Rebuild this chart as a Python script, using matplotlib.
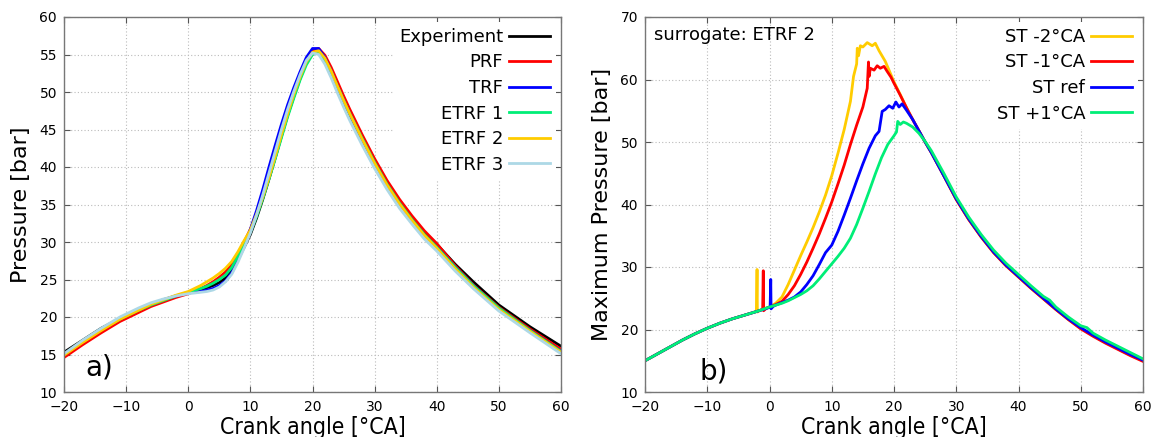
import matplotlib
matplotlib.use("Agg")
import matplotlib.pyplot as plt

# ---------------- panel a) data ----------------
crank_a = [-20, -17, -14, -11, -8, -6, -4, -2, 0, 2, 3, 4, 5, 6, 7, 8, 9, 10, 11, 12, 13,
           14, 15, 16, 17, 18, 19, 20, 21, 22, 23, 24, 25, 26, 28, 30, 32, 34, 36, 38,
           40, 43, 46, 50, 55, 60]
experiment = [15.3, 16.9, 18.5, 19.8, 21.0, 21.7, 22.3, 22.8, 23.2, 23.6, 23.9, 24.2, 24.6,
              25.2, 26.2, 27.7, 29.3, 31.0, 33.2, 35.7, 38.4, 41.2, 44.1, 46.9, 49.4, 51.8,
              53.9, 55.1, 55.2, 54.0, 52.3, 50.4, 48.6, 46.9, 43.6, 40.5, 37.7, 35.3, 33.2,
              31.3, 29.7, 27.0, 24.6, 21.6, 18.7, 16.1]
prf = [14.6, 16.3, 17.9, 19.4, 20.6, 21.4, 22.0, 22.6, 23.1, 23.8, 24.2, 24.7, 25.3, 26.0,
       27.0, 28.4, 30.0, 31.7, 33.8, 36.2, 38.9, 41.7, 44.6, 47.4, 49.9, 52.2, 54.2, 55.6,
       55.8, 54.9, 53.3, 51.4, 49.5, 47.7, 44.3, 41.1, 38.2, 35.7, 33.5, 31.5, 29.8, 26.8,
       24.2, 21.3, 18.4, 15.7]
trf = [15.0, 16.7, 18.3, 19.8, 21.0, 21.7, 22.3, 22.8, 23.2, 23.4, 23.6, 23.8, 24.2, 24.8,
       25.9, 27.6, 29.6, 31.7, 34.2, 37.0, 40.0, 42.9, 45.7, 48.3, 50.6, 52.7, 54.6, 55.8,
       55.8, 54.6, 52.8, 50.8, 48.9, 47.1, 43.7, 40.5, 37.6, 35.1, 32.9, 30.9, 29.3, 26.6,
       24.1, 21.1, 18.2, 15.4]
etrf1 = [15.0, 16.7, 18.3, 19.7, 20.9, 21.6, 22.2, 22.8, 23.3, 23.8, 24.1, 24.5, 25.0, 25.6,
         26.6, 28.1, 29.8, 31.3, 33.4, 35.8, 38.4, 41.1, 43.9, 46.7, 49.2, 51.6, 53.6, 55.0,
         55.3, 54.3, 52.7, 50.8, 48.9, 47.1, 43.8, 40.6, 37.7, 35.2, 33.0, 31.0, 29.3, 26.6,
         24.1, 21.2, 18.2, 15.4]
etrf2 = [14.9, 16.6, 18.2, 19.7, 20.9, 21.7, 22.3, 22.9, 23.4, 24.2, 24.7, 25.2, 25.8, 26.5,
         27.4, 28.7, 30.2, 31.6, 33.7, 36.0, 38.6, 41.4, 44.3, 47.1, 49.7, 52.0, 54.0, 55.3,
         55.5, 54.5, 52.8, 50.8, 48.9, 47.1, 43.7, 40.5, 37.6, 35.1, 32.9, 30.9, 29.2, 26.4,
         23.9, 21.0, 18.1, 15.3]
etrf3 = [15.1, 16.9, 18.5, 20.0, 21.2, 21.9, 22.4, 22.8, 23.1, 23.3, 23.4, 23.6, 24.0, 24.7,
         25.7, 27.3, 29.2, 31.2, 33.6, 36.3, 39.2, 42.1, 45.0, 47.7, 50.1, 52.3, 54.2, 55.2,
         55.0, 53.7, 51.9, 49.9, 48.0, 46.2, 42.9, 39.8, 37.0, 34.5, 32.4, 30.4, 28.8, 26.1,
         23.7, 20.8, 17.9, 15.1]
labels_a = ["Experiment", "PRF", "TRF", "ETRF 1", "ETRF 2", "ETRF 3"]
colors_a = ["#000000", "#ff0000", "#0000ff", "#00ee77", "#ffcc00", "#add8e6"]

# ---------------- panel b) data ----------------
st_m2_x = [-20, -18, -16, -14, -12, -10, -8, -6, -4, -2.1, -2.0, -1.95, -1.5, -1, 0, 1, 2, 3,
           4, 5, 6, 7, 8, 9, 10, 11, 12, 13, 13.5, 14.0, 14.1, 14.3, 14.6, 15, 15.7, 16.5,
           17, 17.6, 18.6, 19.5, 20, 21, 22, 23, 24, 25, 26, 28, 30, 32, 34, 36, 38, 40,
           42, 44, 46, 48, 50, 52, 54, 56, 58, 60]
st_m2_y = [15.0, 16.1, 17.2, 18.3, 19.3, 20.2, 21.0, 21.7, 22.3, 22.9, 29.6, 22.8, 23.1,
           23.3, 23.6, 24.2, 25.2, 27.2, 29.5, 31.8, 34.0, 36.3, 38.8, 41.5, 44.6, 48.2,
           52.0, 56.5, 60.5, 62.5, 65.0, 63.8, 65.4, 65.2, 65.9, 65.4, 65.8, 64.6, 62.9,
           60.8, 59.6, 57.6, 55.5, 53.6, 51.8, 50.0, 48.3, 44.6, 40.8, 37.6, 34.8, 32.3,
           30.2, 28.4, 26.6, 24.9, 23.2, 21.6, 20.2, 19.0, 17.9, 16.9, 15.9, 15.0]
st_m1_x = [-20, -18, -16, -14, -12, -10, -8, -6, -4, -2, -1.1, -1.0, -0.95, -0.5, 0, 1, 2,
           3, 4, 5, 6, 7, 8, 9, 10, 11, 12, 13, 14, 15, 15.7, 15.9, 16.0, 16.2, 16.8, 17.3,
           17.8, 18.4, 18.9, 19.5, 20, 21, 22, 23, 24, 25, 26, 28, 30, 32, 34, 36, 38, 40,
           42, 44, 46, 48, 50, 52, 54, 56, 58, 60]
st_m1_y = [15.0, 16.1, 17.2, 18.3, 19.3, 20.2, 21.0, 21.7, 22.3, 22.9, 23.2, 29.4, 23.0,
           23.4, 23.6, 24.0, 24.5, 25.6, 27.0, 28.8, 30.8, 33.0, 35.3, 37.8, 40.4, 43.3,
           46.3, 49.6, 52.7, 55.6, 58.6, 62.8, 60.5, 61.8, 61.5, 62.2, 61.8, 62.1, 61.3,
           60.4, 59.4, 57.5, 55.5, 53.6, 51.8, 50.0, 48.3, 44.6, 40.8, 37.6, 34.8, 32.3,
           30.2, 28.4, 26.6, 24.9, 23.2, 21.6, 20.1, 18.9, 17.8, 16.8, 15.8, 14.9]
st_ref_x = [-20, -18, -16, -14, -12, -10, -8, -6, -4, -2, -0.1, 0.1, 0.2, 0.25, 0.6, 1, 2,
            3, 4, 5, 6, 7, 8, 9, 10, 11, 12, 13, 14, 15, 16, 17, 17.6, 18.1, 18.6, 19.2,
            19.8, 20.3, 20.8, 21.3, 22, 23, 24, 25, 26, 28, 30, 32, 34, 36, 38, 40, 42,
            44, 46, 48, 50, 52, 54, 56, 58, 60]
st_ref_y = [15.0, 16.1, 17.2, 18.3, 19.3, 20.2, 21.0, 21.7, 22.3, 22.9, 23.5, 23.6, 28.0,
            23.3, 23.7, 23.9, 24.3, 24.7, 25.2, 26.0, 27.2, 28.6, 30.4, 32.3, 33.5, 35.7,
            38.3, 41.0, 43.8, 46.5, 49.0, 51.0, 51.7, 54.9, 55.2, 55.8, 55.4, 56.4, 55.6,
            56.1, 55.1, 53.6, 51.8, 50.0, 48.3, 44.6, 40.9, 37.7, 34.9, 32.4, 30.3, 28.5,
            26.7, 25.0, 23.3, 21.7, 20.3, 19.1, 18.0, 17.0, 16.0, 15.1]
st_p1_x = [-20, -18, -16, -14, -12, -10, -8, -6, -4, -2, 0, 1, 2, 3, 4, 5, 6, 7, 8, 9, 10,
           11, 12, 13, 14, 15, 16, 17, 18, 19, 20, 20.4, 20.6, 21.0, 21.5, 22, 23, 24, 25,
           26, 28, 30, 32, 34, 36, 38, 40, 42, 44, 45, 46, 48, 50, 51, 52, 54, 56, 58, 60]
st_p1_y = [15.0, 16.1, 17.2, 18.3, 19.3, 20.2, 21.0, 21.7, 22.3, 22.9, 23.6, 23.9, 24.2,
           24.6, 25.1, 25.6, 26.2, 27.0, 28.1, 29.3, 30.5, 31.7, 33.0, 34.6, 36.8, 39.4,
           42.1, 44.9, 47.5, 49.6, 51.0, 51.6, 53.3, 52.8, 53.2, 53.0, 52.4, 51.4, 50.1,
           48.6, 45.0, 41.2, 38.0, 35.2, 32.7, 30.6, 28.8, 27.0, 25.3, 24.7, 23.6, 22.0,
           20.6, 20.3, 19.4, 18.3, 17.3, 16.3, 15.3]
labels_b = ["ST -2°CA", "ST -1°CA", "ST ref", "ST +1°CA"]
colors_b = ["#ffcc00", "#ff0000", "#0000ff", "#00ee77"]

# ---------------- figure ----------------
plt.rcParams["font.family"] = ["DejaVu Sans"]
fig = plt.figure(figsize=(11.56, 4.37), dpi=100)
ax1 = fig.add_axes([64 / 1156, 1 - 392 / 437, (561 - 64) / 1156, (392 - 17) / 437])
ax2 = fig.add_axes([645 / 1156, 1 - 392 / 437, (1143 - 645) / 1156, (392 - 17) / 437])


def style(ax, ymax, ystep):
    ax.set_xlim(-20, 60)
    ax.set_ylim(10, ymax)
    ax.set_xticks(range(-20, 61, 10))
    ax.set_yticks(range(10, ymax + 1, ystep))
    ax.grid(True, color="#bbbbbb", linestyle=(0, (1, 2)), linewidth=0.8)
    ax.set_axisbelow(True)
    ax.tick_params(direction="in", top=True, right=True, length=4, labelsize=10,
                   color="#555555")
    ax.tick_params(axis="x", pad=6)
    ax.tick_params(axis="y", pad=5)
    for s in ax.spines.values():
        s.set_color("#777777")
        s.set_linewidth(1.0)
    ax.set_xlabel("Crank angle [°CA]", fontsize=16.5, fontstretch="condensed",
                  labelpad=1)


def legend(ax):
    leg = ax.legend(loc="upper right", markerfirst=False, frameon=True, fontsize=13,
                    handlelength=2.3, handletextpad=0.3, labelspacing=0.42,
                    borderaxespad=0.25, borderpad=0.35)
    leg.get_frame().set_edgecolor("none")
    leg.get_frame().set_facecolor("white")
    leg.get_frame().set_alpha(1.0)
    leg.get_frame().set_boxstyle("square", pad=0)
    return leg


style(ax1, 60, 5)
series_a = [experiment, prf, trf, etrf1, etrf2, etrf3]
for yv, lab, col in zip(series_a, labels_a, colors_a):
    ax1.plot(crank_a, yv, color=col, lw=2.0, label=lab)
ax1.set_ylabel("Pressure [bar]", fontsize=16, labelpad=6)
legend(ax1)
ax1.text(-16.5, 12.2, "a)", fontsize=20)

style(ax2, 70, 10)
series_b = [(st_m2_x, st_m2_y), (st_m1_x, st_m1_y), (st_ref_x, st_ref_y), (st_p1_x, st_p1_y)]
for (xv, yv), lab, col in zip(series_b, labels_b, colors_b):
    ax2.plot(xv, yv, color=col, lw=2.0, label=lab)
ax2.set_ylabel("Maximum Pressure [bar]", fontsize=16, labelpad=6)
legend(ax2)
ax2.text(-18.5, 66.3, "surrogate: ETRF 2", fontsize=13)
ax2.text(-11.2, 12.0, "b)", fontsize=20)

fig.savefig("out.png", dpi=100)
